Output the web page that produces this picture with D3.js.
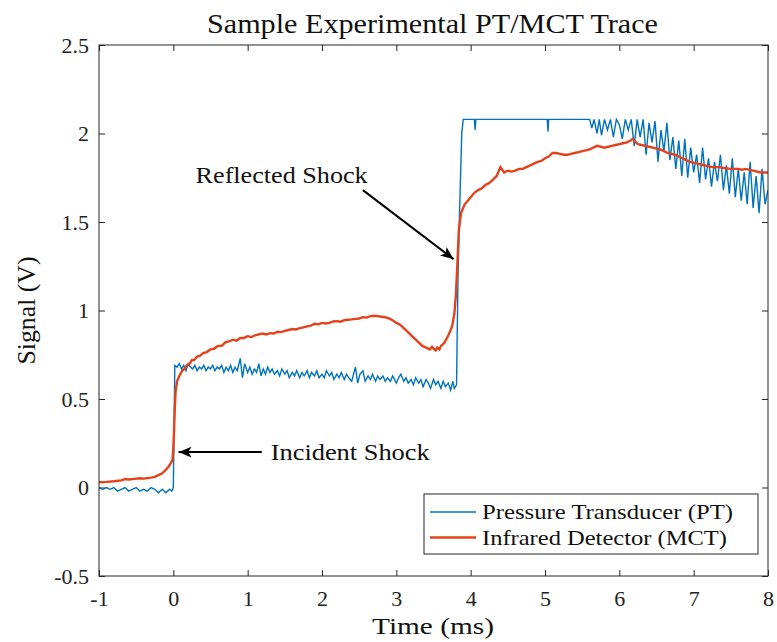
<!DOCTYPE html>
<html lang="en">
<head>
<meta charset="UTF-8">
<title>Sample Experimental PT/MCT Trace</title>
<script src="https://d3js.org/d3.v7.min.js"></script>
<style>
  body { margin: 0; background: #fff; }
  svg { display: block; font-family: 'Liberation Serif', 'Times New Roman', serif; }
  svg text { font-family: 'Liberation Serif', 'Times New Roman', serif; }
  .line { fill: none; }
</style>
</head>
<body>
<svg id="chart" width="777" height="642"></svg>
<script>
// x ticks and y ticks as shown on the axes
var xTicks = [-1, 0, 1, 2, 3, 4, 5, 6, 7, 8];
var xTickLabels = ["-1", "0", "1", "2", "3", "4", "5", "6", "7", "8"];
var yTicks = [-0.5, 0, 0.5, 1, 1.5, 2, 2.5];
var yTickLabels = ["-0.5", "0", "0.5", "1", "1.5", "2", "2.5"];

var seriesNames = ["Pressure Transducer (PT)", "Infrared Detector (MCT)"];

// pressure transducer trace, [time ms, signal V]
var ptTrace = [
  [-1.00, 0.00], [-0.95, -0.01], [-0.90, 0.00], [-0.85, -0.01], [-0.80, 0.00], [-0.75, -0.02],
  [-0.70, -0.01], [-0.65, 0.00], [-0.60, -0.02], [-0.55, -0.01], [-0.50, 0.00], [-0.45, -0.02],
  [-0.40, -0.01], [-0.35, -0.02], [-0.30, 0.00], [-0.25, -0.01], [-0.20, -0.03], [-0.15, -0.01],
  [-0.10, -0.03], [-0.05, -0.01], [-0.02, -0.02], [0.00, 0.00], [0.02, 0.69], [0.05, 0.68],
  [0.08, 0.70], [0.11, 0.67], [0.14, 0.69], [0.17, 0.66], [0.20, 0.70], [0.23, 0.68],
  [0.26, 0.67], [0.29, 0.69], [0.32, 0.66], [0.35, 0.68], [0.38, 0.67], [0.41, 0.69],
  [0.44, 0.66], [0.47, 0.68], [0.50, 0.67], [0.53, 0.69], [0.56, 0.66], [0.59, 0.68],
  [0.62, 0.67], [0.65, 0.69], [0.68, 0.65], [0.71, 0.68], [0.74, 0.66], [0.77, 0.69],
  [0.80, 0.65], [0.83, 0.68], [0.86, 0.66], [0.90, 0.73], [0.93, 0.62], [0.96, 0.70],
  [1.00, 0.65], [1.03, 0.68], [1.06, 0.64], [1.09, 0.67], [1.12, 0.65], [1.15, 0.70],
  [1.18, 0.63], [1.21, 0.67], [1.24, 0.64], [1.27, 0.68], [1.30, 0.65], [1.33, 0.67],
  [1.36, 0.64], [1.40, 0.66], [1.43, 0.63], [1.46, 0.67], [1.50, 0.64], [1.53, 0.66],
  [1.56, 0.62], [1.60, 0.65], [1.63, 0.63], [1.66, 0.66], [1.70, 0.62], [1.73, 0.65],
  [1.76, 0.63], [1.80, 0.66], [1.83, 0.62], [1.86, 0.65], [1.90, 0.63], [1.93, 0.66],
  [1.96, 0.62], [2.00, 0.64], [2.03, 0.62], [2.06, 0.66], [2.10, 0.63], [2.13, 0.65],
  [2.16, 0.61], [2.20, 0.64], [2.23, 0.62], [2.26, 0.65], [2.30, 0.61], [2.33, 0.64],
  [2.36, 0.62], [2.40, 0.60], [2.43, 0.65], [2.45, 0.68], [2.48, 0.59], [2.51, 0.64],
  [2.55, 0.66], [2.58, 0.60], [2.62, 0.63], [2.65, 0.61], [2.68, 0.64], [2.72, 0.60],
  [2.75, 0.63], [2.78, 0.61], [2.82, 0.63], [2.85, 0.60], [2.88, 0.62], [2.92, 0.60],
  [2.95, 0.63], [3.00, 0.59], [3.03, 0.62], [3.06, 0.64], [3.10, 0.60], [3.13, 0.62],
  [3.16, 0.59], [3.20, 0.61], [3.23, 0.58], [3.26, 0.62], [3.30, 0.59], [3.33, 0.61],
  [3.36, 0.57], [3.40, 0.61], [3.43, 0.59], [3.46, 0.56], [3.50, 0.61], [3.53, 0.58],
  [3.56, 0.60], [3.60, 0.56], [3.63, 0.60], [3.66, 0.57], [3.70, 0.59], [3.73, 0.55],
  [3.76, 0.60], [3.78, 0.56], [3.81, 0.58], [3.83, 1.20], [3.85, 1.55], [3.88, 2.00],
  [3.90, 2.08], [4.05, 2.08], [4.06, 2.02], [4.07, 2.08], [5.03, 2.08], [5.04, 2.01],
  [5.05, 2.08], [5.60, 2.08], [5.63, 2.03], [5.66, 2.08], [5.70, 2.00], [5.73, 2.08],
  [5.76, 1.99], [5.80, 2.08], [5.84, 2.02], [5.88, 2.08], [5.92, 1.98], [5.96, 2.08],
  [6.00, 2.05], [6.04, 1.97], [6.08, 2.08], [6.12, 2.02], [6.16, 2.08], [6.20, 1.93],
  [6.24, 2.08], [6.28, 1.98], [6.32, 2.08], [6.36, 1.88], [6.40, 2.06], [6.44, 1.95],
  [6.48, 2.07], [6.52, 1.84], [6.56, 2.02], [6.60, 1.90], [6.64, 2.06], [6.68, 1.85],
  [6.72, 1.98], [6.76, 1.80], [6.80, 1.96], [6.84, 1.76], [6.88, 1.97], [6.92, 1.75],
  [6.96, 1.92], [7.00, 1.78], [7.04, 1.88], [7.08, 1.72], [7.12, 1.92], [7.16, 1.74],
  [7.20, 1.86], [7.24, 1.70], [7.28, 1.84], [7.32, 1.73], [7.36, 1.88], [7.40, 1.68],
  [7.44, 1.82], [7.48, 1.66], [7.52, 1.86], [7.56, 1.64], [7.60, 1.80], [7.64, 1.62],
  [7.68, 1.78], [7.72, 1.60], [7.76, 1.84], [7.80, 1.58], [7.84, 1.76], [7.88, 1.55],
  [7.92, 1.80], [7.96, 1.60], [8.00, 1.68]
];

// infrared detector trace, [time ms, signal V]
var mctTrace = [
  [-1.00, 0.030], [-0.90, 0.032], [-0.80, 0.035], [-0.70, 0.040], [-0.65, 0.048], [-0.60, 0.045],
  [-0.50, 0.050], [-0.45, 0.052], [-0.40, 0.050], [-0.30, 0.056], [-0.25, 0.060], [-0.20, 0.070],
  [-0.15, 0.080], [-0.10, 0.100], [-0.06, 0.120], [-0.03, 0.140], [-0.01, 0.160], [0.00, 0.220],
  [0.01, 0.330], [0.02, 0.450], [0.03, 0.540], [0.05, 0.600], [0.08, 0.630], [0.12, 0.660],
  [0.15, 0.670], [0.18, 0.690], [0.22, 0.700], [0.25, 0.720], [0.28, 0.720], [0.32, 0.740],
  [0.36, 0.745], [0.40, 0.760], [0.45, 0.765], [0.50, 0.780], [0.55, 0.785], [0.60, 0.800],
  [0.65, 0.800], [0.70, 0.820], [0.75, 0.825], [0.80, 0.835], [0.85, 0.830], [0.90, 0.845],
  [0.95, 0.845], [1.00, 0.855], [1.05, 0.850], [1.10, 0.860], [1.15, 0.865], [1.20, 0.870],
  [1.25, 0.865], [1.30, 0.872], [1.35, 0.870], [1.40, 0.880], [1.45, 0.878], [1.50, 0.885],
  [1.55, 0.890], [1.60, 0.895], [1.65, 0.893], [1.70, 0.900], [1.75, 0.905], [1.80, 0.910],
  [1.85, 0.915], [1.90, 0.925], [1.95, 0.922], [2.00, 0.930], [2.05, 0.927], [2.10, 0.930],
  [2.15, 0.938], [2.20, 0.940], [2.25, 0.937], [2.30, 0.945], [2.35, 0.948], [2.40, 0.950],
  [2.45, 0.953], [2.50, 0.955], [2.55, 0.962], [2.60, 0.960], [2.65, 0.968], [2.70, 0.970],
  [2.75, 0.968], [2.80, 0.965], [2.85, 0.962], [2.90, 0.955], [2.95, 0.945], [3.00, 0.930],
  [3.05, 0.920], [3.10, 0.900], [3.15, 0.880], [3.20, 0.860], [3.25, 0.840], [3.30, 0.820],
  [3.35, 0.800], [3.40, 0.790], [3.45, 0.780], [3.48, 0.795], [3.50, 0.785], [3.53, 0.775],
  [3.55, 0.790], [3.58, 0.780], [3.60, 0.800], [3.63, 0.810], [3.65, 0.820], [3.70, 0.860],
  [3.75, 0.910], [3.78, 0.980], [3.80, 1.080], [3.82, 1.250], [3.84, 1.450], [3.87, 1.550],
  [3.92, 1.600], [4.00, 1.640], [4.05, 1.665], [4.10, 1.680], [4.15, 1.690], [4.20, 1.710],
  [4.25, 1.720], [4.30, 1.740], [4.35, 1.760], [4.40, 1.810], [4.45, 1.780], [4.50, 1.790],
  [4.55, 1.785], [4.60, 1.790], [4.65, 1.800], [4.70, 1.800], [4.75, 1.810], [4.80, 1.820],
  [4.85, 1.830], [4.90, 1.840], [4.95, 1.845], [5.00, 1.860], [5.05, 1.870], [5.10, 1.890],
  [5.15, 1.890], [5.20, 1.885], [5.25, 1.880], [5.30, 1.880], [5.35, 1.885], [5.40, 1.890],
  [5.45, 1.895], [5.50, 1.900], [5.55, 1.905], [5.60, 1.910], [5.65, 1.920], [5.70, 1.930],
  [5.75, 1.925], [5.80, 1.920], [5.85, 1.925], [5.90, 1.930], [5.95, 1.935], [6.00, 1.940],
  [6.05, 1.945], [6.10, 1.950], [6.15, 1.960], [6.18, 1.970], [6.21, 1.955], [6.25, 1.940],
  [6.30, 1.935], [6.35, 1.930], [6.40, 1.925], [6.45, 1.920], [6.50, 1.915], [6.55, 1.910],
  [6.60, 1.900], [6.65, 1.890], [6.70, 1.885], [6.75, 1.880], [6.80, 1.870], [6.85, 1.860],
  [6.90, 1.850], [6.95, 1.840], [7.00, 1.835], [7.05, 1.830], [7.10, 1.825], [7.15, 1.820],
  [7.20, 1.815], [7.25, 1.810], [7.30, 1.810], [7.35, 1.810], [7.40, 1.805], [7.50, 1.800],
  [7.60, 1.800], [7.65, 1.795], [7.70, 1.800], [7.80, 1.790], [7.90, 1.780], [8.00, 1.780]
];

// annotations: label, label anchor (t, v), arrow tail and head (t, v)
var noteLabels = ["Incident Shock", "Reflected Shock"];
var noteText = [[1.31, 0.155], [0.30, 1.72]];
var noteTail = [[1.19, 0.20], [2.55, 1.68]];
var noteHead = [[0.07, 0.20], [3.77, 1.29]];
var noteWidth = [159, 172];

var colors = ["#0072bd", "#e4421b"];

var margin = { top: 45, right: 9, bottom: 66, left: 99 },
    width = 777 - margin.left - margin.right,
    height = 642 - margin.top - margin.bottom;

var serif = "'Liberation Serif', 'Times New Roman', serif";

var svg = d3.select("#chart");
var g = svg.append("g")
    .attr("transform", "translate(" + margin.left + "," + margin.top + ")");

var x = d3.scaleLinear().domain([-1, 8]).range([0, width]);
var y = d3.scaleLinear().domain([-0.5, 2.5]).range([height, 0]);

g.append("defs").append("clipPath").attr("id", "clip")
  .append("rect").attr("width", width).attr("height", height);

function styleAxis(sel, showText) {
  sel.attr("font-family", null).attr("font-size", null);
  sel.select(".domain").remove();
  sel.selectAll(".tick line").attr("stroke", "#262626");
  sel.selectAll(".tick text").attr("fill", "#222")
    .style("font-family", serif).style("font-size", "22px");
  if (!showText) sel.selectAll(".tick text").remove();
}

g.append("g")
  .attr("transform", "translate(0," + height + ")")
  .call(d3.axisBottom(x).tickValues(xTicks).tickSize(-6).tickPadding(14)
    .tickFormat(function (d, i) { return xTickLabels[i]; }))
  .call(styleAxis, true);
g.append("g")
  .call(d3.axisTop(x).tickValues(xTicks).tickSize(-6))
  .call(styleAxis, false);
g.append("g")
  .call(d3.axisLeft(y).tickValues(yTicks).tickSize(-6).tickPadding(10)
    .tickFormat(function (d, i) { return yTickLabels[i]; }))
  .call(styleAxis, true);
g.append("g")
  .attr("transform", "translate(" + width + ",0)")
  .call(d3.axisRight(y).tickValues(yTicks).tickSize(-6))
  .call(styleAxis, false);

var line = d3.line()
  .x(function (d) { return x(d[0]); })
  .y(function (d) { return y(d[1]); });

var plot = g.append("g").attr("clip-path", "url(#clip)");
plot.append("path").datum(ptTrace).attr("class", "line")
  .attr("stroke", colors[0]).attr("stroke-width", 1.4).attr("d", line);
plot.append("path").datum(mctTrace).attr("class", "line")
  .attr("stroke", colors[1]).attr("stroke-width", 2.4).attr("d", line);

// box
g.append("rect").attr("width", width).attr("height", height)
  .attr("fill", "none").attr("stroke", "#262626").attr("stroke-width", 1);

// arrows
svg.append("defs").append("marker")
  .attr("id", "head").attr("viewBox", "0 0 12 10")
  .attr("refX", 12).attr("refY", 5)
  .attr("markerWidth", 13).attr("markerHeight", 11)
  .attr("markerUnits", "userSpaceOnUse").attr("orient", "auto")
  .append("path").attr("d", "M0,0 L12,5 L0,10 L3,5 Z").attr("fill", "#000");

noteLabels.forEach(function (lab, i) {
  g.append("line")
    .attr("x1", x(noteTail[i][0])).attr("y1", y(noteTail[i][1]))
    .attr("x2", x(noteHead[i][0])).attr("y2", y(noteHead[i][1]))
    .attr("stroke", "#000").attr("stroke-width", 2)
    .attr("marker-end", "url(#head)");
  g.append("text")
    .attr("x", x(noteText[i][0])).attr("y", y(noteText[i][1]))
    .attr("textLength", noteWidth[i]).attr("lengthAdjust", "spacingAndGlyphs")
    .style("font-size", "23px").attr("fill", "#111")
    .text(lab);
});

// legend
var legendWidth = [251, 245];
var leg = g.append("g").attr("transform", "translate(" + (424 - margin.left) + "," + (494 - margin.top) + ")");
leg.append("rect").attr("width", 334).attr("height", 60)
  .attr("fill", "#fff").attr("stroke", "#262626").attr("stroke-width", 1);
seriesNames.forEach(function (name, i) {
  var yy = 18 + i * 25.5;
  leg.append("line").attr("x1", 6).attr("x2", 52).attr("y1", yy).attr("y2", yy)
    .attr("stroke", colors[i]).attr("stroke-width", i === 0 ? 1.4 : 2.4);
  leg.append("text").attr("x", 58).attr("y", yy + 7)
    .attr("textLength", legendWidth[i]).attr("lengthAdjust", "spacingAndGlyphs")
    .style("font-size", "22px").attr("fill", "#111").text(name);
});

// titles
svg.append("text").attr("x", 207).attr("y", 33)
  .attr("textLength", 451).attr("lengthAdjust", "spacingAndGlyphs")
  .style("font-size", "27px").attr("fill", "#111")
  .text("Sample Experimental PT/MCT Trace");
svg.append("text").attr("x", 372).attr("y", 634)
  .attr("textLength", 122).attr("lengthAdjust", "spacingAndGlyphs")
  .style("font-size", "24px").attr("fill", "#111")
  .text("Time (ms)");
svg.append("text").attr("transform", "translate(35," + (margin.top + height / 2) + ") rotate(-90)")
  .attr("x", -54).attr("textLength", 108).attr("lengthAdjust", "spacingAndGlyphs")
  .style("font-size", "25px").attr("fill", "#111")
  .text("Signal (V)");
</script>
</body>
</html>
